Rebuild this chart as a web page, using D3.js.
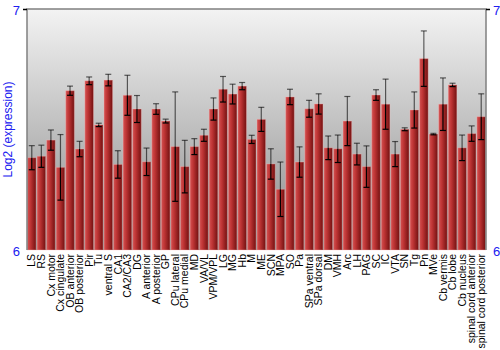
<!DOCTYPE html>
<html>
<head>
<meta charset="utf-8">
<script src="https://cdn.jsdelivr.net/npm/d3@7"></script>
<style>
  body { margin: 0; background: #fff; }
  svg { display: block; font-family: "Liberation Sans", Arial, sans-serif; }
</style>
</head>
<body>
<div class="graph"></div>
<script>
// regions, in plotting order
const regions = ["LS", "RS", "Cx motor", "Cx cingulate", "OB anterior", "OB posterior", "Pir", "Tu",
  "ventral S", "CA1", "CA2/CA3", "DG", "A anterior", "A posterior", "GP", "CPu lateral", "CPu medial",
  "MD", "VA/VL", "VPM/VPL", "LG", "MG", "Hb", "M", "ME", "SCN", "MPA", "SO", "Pa", "SPa ventral",
  "SPa dorsal", "DM", "VMH", "Arc", "LH", "PAG", "SC", "IC", "VTA", "SN", "Tg", "Pn", "MVe",
  "Cb vermis", "Cb lobe", "Cb nucleus", "spinal cord anterior", "spinal cord posterior"];

// log2 expression (mean)
const means = [6.383, 6.389, 6.456, 6.343, 6.661, 6.419, 6.702, 6.519,
  6.705, 6.355, 6.642, 6.585, 6.366, 6.585, 6.535, 6.429, 6.346,
  6.429, 6.476, 6.585, 6.667, 6.647, 6.680, 6.459, 6.542, 6.357, 6.252, 6.635, 6.365, 6.586,
  6.606, 6.424, 6.420, 6.535, 6.398, 6.346, 6.643, 6.605, 6.398, 6.501, 6.581, 6.794, 6.481,
  6.605, 6.685, 6.424, 6.483, 6.553];

// error (half length of the bar)
const errs = [0.050, 0.046, 0.042, 0.136, 0.019, 0.032, 0.016, 0.007,
  0.024, 0.057, 0.083, 0.056, 0.057, 0.022, 0.008, 0.227, 0.109,
  0.033, 0.025, 0.046, 0.053, 0.041, 0.015, 0.017, 0.050, 0.063, 0.113, 0.032, 0.063, 0.035,
  0.042, 0.049, 0.057, 0.102, 0.045, 0.086, 0.022, 0.104, 0.052, 0.006, 0.075, 0.115, 0.003,
  0.109, 0.007, 0.053, 0.032, 0.095];

const yTicks = [6, 7];

const data = regions.map((r, i) => ({ name: r, v: means[i], e: errs[i] }));

const W = 500, H = 350;
const margin = { top: 9, right: 14, bottom: 100, left: 27 };
const width = W - margin.left - margin.right;
const height = H - margin.top - margin.bottom;
const blue = "#2020f0";

const svg = d3.select(".graph").append("svg").attr("width", W).attr("height", H);

const defs = svg.append("defs");
const bg = defs.append("linearGradient").attr("id", "bg")
  .attr("x1", 0).attr("y1", 0).attr("x2", 0).attr("y2", 1);
bg.append("stop").attr("offset", "0%").attr("stop-color", "#f3f3f3");
bg.append("stop").attr("offset", "100%").attr("stop-color", "#8a8a8a");

const barGrad = defs.append("linearGradient").attr("id", "bar")
  .attr("x1", 0).attr("y1", 0).attr("x2", 1).attr("y2", 0);
barGrad.append("stop").attr("offset", "0%").attr("stop-color", "#d35252");
barGrad.append("stop").attr("offset", "35%").attr("stop-color", "#bf3535");
barGrad.append("stop").attr("offset", "100%").attr("stop-color", "#721010");

const g = svg.append("g").attr("transform", "translate(" + margin.left + "," + margin.top + ")");

const x = d3.scaleBand().domain(regions).range([0, width]).paddingInner(0.1).paddingOuter(0.05);
const y = d3.scaleLinear().domain([6, 7]).range([height, 0]);

g.append("rect").attr("width", width).attr("height", height).attr("fill", "url(#bg)");

// bars
g.selectAll("rect.bar").data(data).enter().append("rect")
  .attr("class", "bar")
  .attr("x", d => x(d.name))
  .attr("y", d => y(d.v))
  .attr("width", x.bandwidth())
  .attr("height", d => height - y(d.v))
  .attr("fill", "url(#bar)")
  .attr("stroke", "rgba(255,190,190,0.35)")
  .attr("stroke-width", 1);

// error bars: upper half lighter, lower half black
const eb = g.selectAll("g.err").data(data).enter().append("g").attr("class", "err")
  .attr("transform", d => "translate(" + (x(d.name) + x.bandwidth() / 2) + ",0)");
eb.append("line").attr("y1", d => y(d.v + d.e)).attr("y2", d => y(d.v))
  .attr("stroke", "#000").attr("stroke-opacity", 0.6).attr("stroke-width", 1.2);
eb.append("line").attr("x1", -3).attr("x2", 3).attr("y1", d => y(d.v + d.e)).attr("y2", d => y(d.v + d.e))
  .attr("stroke", "#000").attr("stroke-opacity", 0.6).attr("stroke-width", 1.2);
eb.append("line").attr("y1", d => y(d.v)).attr("y2", d => y(d.v - d.e))
  .attr("stroke", "#000").attr("stroke-width", 1.2);
eb.append("line").attr("x1", -3).attr("x2", 3).attr("y1", d => y(d.v - d.e)).attr("y2", d => y(d.v - d.e))
  .attr("stroke", "#000").attr("stroke-width", 1.2);

// frame
g.append("path")
  .attr("d", "M0," + height + "V0H" + width + "V" + height)
  .attr("fill", "none").attr("stroke", "#808080").attr("stroke-width", 1.5);

// y axes, left and right
const yaxisL = d3.axisLeft(y).tickValues(yTicks).tickSize(4).tickFormat(d3.format("d"));
const yaxisR = d3.axisRight(y).tickValues(yTicks).tickSize(4).tickFormat(d3.format("d"));
[[yaxisL, 0], [yaxisR, width]].forEach(([ax, tx]) => {
  const a = g.append("g").attr("transform", "translate(" + tx + ",0)").call(ax);
  a.select(".domain").remove();
  a.selectAll(".tick line").attr("stroke", "#000").attr("stroke-width", 1.5);
  a.selectAll(".tick text").attr("fill", blue).style("font-size", "13px").attr("dy", "0.4em");
  a.selectAll(".tick").filter(d => d === 6).select("line").remove();
});

// category labels
const xaxis = g.append("g").attr("transform", "translate(0," + height + ")")
  .call(d3.axisBottom(x).tickSize(0));
xaxis.select(".domain").remove();
xaxis.selectAll(".tick text")
  .attr("transform", "rotate(-90)")
  .attr("text-anchor", "end")
  .attr("x", -4).attr("y", 0).attr("dy", "0.35em")
  .attr("fill", "#000")
  .style("font-size", "10.5px");

svg.append("text")
  .attr("transform", "translate(12," + (margin.top + height / 2) + ") rotate(-90)")
  .attr("text-anchor", "middle")
  .attr("fill", blue)
  .style("font-size", "12px")
  .text("Log2 (expression)");
</script>
</body>
</html>
